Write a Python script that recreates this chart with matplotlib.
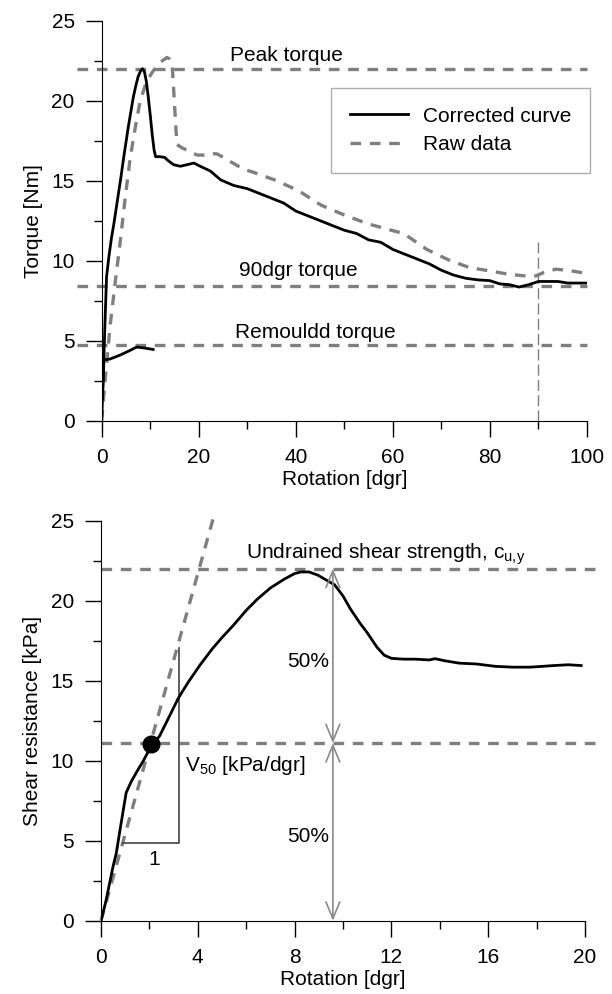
import numpy as np
import matplotlib
matplotlib.use("Agg")
import matplotlib.pyplot as plt

plt.rcParams['font.family'] = ['Liberation Sans', 'DejaVu Sans']
plt.rcParams['mathtext.fontset'] = 'custom'
plt.rcParams['mathtext.rm'] = 'Liberation Sans'
plt.rcParams['font.size'] = 15

# --- top panel data: torque vs rotation ---
corr_x = [0, 0.15, 0.34, 0.5, 0.69, 1.0, 1.5, 2.0, 2.5, 3.0, 3.5, 4.0, 4.5, 5.0, 5.5,
          6.0, 6.5, 7.0, 7.5, 8.0, 8.4, 8.8, 9.2, 9.6, 10.0, 10.4, 10.8, 11.1, 12.0,
          13.0, 13.5, 14.8, 16.2, 17.6, 19.0, 20.3, 22.4, 24.5, 27.2, 30,
          32.5, 35, 37.5, 40, 42.5, 45, 47.5, 50, 52.5, 55, 57.5, 60, 62.5, 65, 67.5, 70,
          72.5, 75, 77.5, 80, 82, 84, 86, 88, 90, 92, 94, 96, 98, 100]
corr_y = [0, 1.3, 2.5, 4.5, 6.3, 9.0, 10.3, 11.4, 12.3, 13.3, 14.3, 15.3, 16.4, 17.4,
          18.4, 19.3, 20.2, 20.9, 21.5, 21.85, 22.0, 21.8, 21.2, 20.2, 19.1, 17.9, 16.9,
          16.5, 16.5, 16.45, 16.3, 16.0, 15.9, 16.0, 16.1, 15.9, 15.6, 15.05, 14.7, 14.5,
          14.2, 13.9, 13.6, 13.1, 12.8, 12.5, 12.2, 11.9, 11.7, 11.3, 11.15, 10.7, 10.4,
          10.1, 9.8, 9.4, 9.1, 8.9, 8.8, 8.75, 8.55, 8.5, 8.35, 8.5, 8.7, 8.7, 8.7, 8.6,
          8.6, 8.6]

remould_x = [0, 0.34, 1.7, 3.8, 5.9, 7.2, 8.6, 10.6]
remould_y = [2.5, 3.8, 3.85, 4.1, 4.4, 4.6, 4.55, 4.45]

raw_x = [0, 0.69, 1.72, 2.76, 3.8, 4.83, 5.86, 6.9, 7.93, 9.3, 10.7, 12.07, 13.45, 14.0,
         14.5, 14.8, 15.2, 15.5, 16.55, 18.3, 19.66, 21, 22.4, 23.8, 25.9, 29.3, 30.8,
         35.6, 40.4, 45.2, 50.1, 54.9, 59.7, 62.2, 67, 71.8, 75.8, 79.9, 83.9, 87.1,
         89.5, 91.1, 93.6, 96.8, 100]
raw_y = [0, 2.5, 5.9, 8.6, 11.15, 13.9, 16.4, 18.3, 20.0, 21.25, 21.9, 22.4, 22.7, 22.6,
         22.3, 20.8, 18.7, 17.26, 17.05, 16.8, 16.6, 16.6, 16.7, 16.67, 16.3, 15.7, 15.57,
         15.05, 14.4, 13.47, 12.84, 12.3, 11.9, 11.7, 10.7, 10.0, 9.57, 9.36, 9.15, 9.05,
         9.05, 9.26, 9.47, 9.36, 9.2]

peak_torque = 22.0
torque_90 = 8.42
remould_torque = 4.75

# --- bottom panel data: shear resistance vs rotation ---
shear_x = [0, 0.2, 0.35, 0.5, 0.63, 0.8, 1.04, 1.25, 1.46, 1.75, 2.01, 2.43, 2.8, 3.19,
           3.6, 4.1, 4.6, 5.0, 5.49, 6.0, 6.46, 7.0, 7.57, 8.0, 8.26, 8.6, 8.96, 9.3,
           9.65, 10.0, 10.3, 10.7, 11.0, 11.4, 11.7, 12.0, 12.5, 13.0, 13.56, 13.8, 14.2,
           14.8, 15.5, 16.3, 17.0, 17.75, 18.7, 19.3, 19.84]
shear_y = [0, 1.2, 2.3, 3.4, 4.2, 5.8, 8.0, 8.7, 9.26, 10.0, 10.73, 11.57, 12.7, 13.9,
           14.9, 16.0, 17.0, 17.7, 18.5, 19.4, 20.1, 20.8, 21.35, 21.7, 21.8, 21.8, 21.6,
           21.3, 21.0, 20.3, 19.5, 18.6, 18.0, 17.1, 16.6, 16.4, 16.35, 16.35, 16.3,
           16.38, 16.25, 16.1, 16.05, 15.9, 15.85, 15.85, 15.95, 16.0, 15.95]

cu = 22.0
half_cu = 11.1
v50_point = (2.08, 11.05)
tangent_x = [0, 4.72]
tangent_y = [0, 25.6]

gray = '#7f7f7f'
dash = (0, (3.2, 2.6))

fig = plt.figure(figsize=(6.12, 9.94), dpi=100)
ax1 = fig.add_axes([0.1662, 0.5768, 0.793, 0.4024])
ax2 = fig.add_axes([0.1650, 0.0737, 0.791, 0.4024])

for ax in (ax1, ax2):
    ax.spines['top'].set_visible(False)
    ax.spines['right'].set_visible(False)
    ax.tick_params(which='major', length=11.5, width=1, pad=8, labelsize=15)
    ax.tick_params(which='minor', length=6, width=1)
    ax.set_ylim(0, 25)
    ax.set_yticks([0, 5, 10, 15, 20, 25])
    ax.set_yticks([2.5, 7.5, 12.5, 17.5, 22.5], minor=True)

# top panel
ax1.set_xlim(0, 100)
ax1.set_xticks([0, 20, 40, 60, 80, 100])
ax1.set_xticks([10, 30, 50, 70, 90], minor=True)
for yv in (peak_torque, torque_90, remould_torque):
    ax1.plot([-5, 100], [yv, yv], color=gray, lw=2.4, ls=dash, clip_on=False)
ax1.plot([90, 90], [0, 11.15], color=gray, lw=1, ls=(0, (8, 3)))
ax1.plot(raw_x, raw_y, color=gray, lw=2.4, ls=dash, label='Raw data')
ax1.plot(corr_x, corr_y, color='black', lw=2, label='Corrected curve')
ax1.plot(remould_x, remould_y, color='black', lw=2)
ax1.text(38, 22.8, 'Peak torque', ha='center', va='center')
ax1.text(40.5, 9.4, '90dgr torque', ha='center', va='center')
ax1.text(44, 5.5, 'Remouldd torque', ha='center', va='center')
handles, labels = ax1.get_legend_handles_labels()
leg = ax1.legend(handles[::-1], labels[::-1], loc='upper right',
                 bbox_to_anchor=(1.006, 0.832), borderaxespad=0, fancybox=False,
                 edgecolor='#999999', handlelength=2.8, borderpad=0.9,
                 labelspacing=0.45, handletextpad=0.7, fontsize=15)
leg.get_frame().set_linewidth(1)
ax1.set_xlabel('Rotation [dgr]', labelpad=2)
ax1.set_ylabel('Torque [Nm]', labelpad=6)

# bottom panel
ax2.set_xlim(0, 20)
ax2.set_xticks([0, 4, 8, 12, 16, 20])
ax2.set_xticks([2, 6, 10, 14, 18], minor=True)
for yv in (cu, half_cu):
    ax2.plot([0, 20.6], [yv, yv], color=gray, lw=2.4, ls=dash, clip_on=False)
ax2.plot(tangent_x, tangent_y, color=gray, lw=2.4, ls=dash, clip_on=False)
ax2.plot([0.93, 3.22, 3.22], [4.84, 4.84, 17.05], color='#444444', lw=1.2)
ax2.plot(shear_x, shear_y, color='black', lw=2)
ax2.plot(*v50_point, 'o', color='black', ms=12)
arrow = dict(arrowstyle='<->,head_length=0.6,head_width=0.25', color='#8a8a8a',
             lw=1.2, shrinkA=0, shrinkB=0, mutation_scale=20)
ax2.annotate('', xy=(9.58, cu), xytext=(9.58, half_cu), arrowprops=arrow)
ax2.annotate('', xy=(9.58, half_cu), xytext=(9.58, 0), arrowprops=arrow)
ax2.text(8.57, 16.2, '50%', ha='center', va='center')
ax2.text(8.57, 5.26, '50%', ha='center', va='center')
ax2.text(6.0, 22.9, r'Undrained shear strength, c$_{\mathrm{u{,}y}}$', ha='left', va='center')
ax2.text(3.49, 9.7, r'V$_{\mathrm{50}}$ [kPa/dgr]', ha='left', va='center')
ax2.text(2.2, 3.8, '1', ha='center', va='center')
ax2.set_xlabel('Rotation [dgr]', labelpad=2)
ax2.set_ylabel('Shear resistance [kPa]', labelpad=6)

fig.savefig('out.png', dpi=100)
